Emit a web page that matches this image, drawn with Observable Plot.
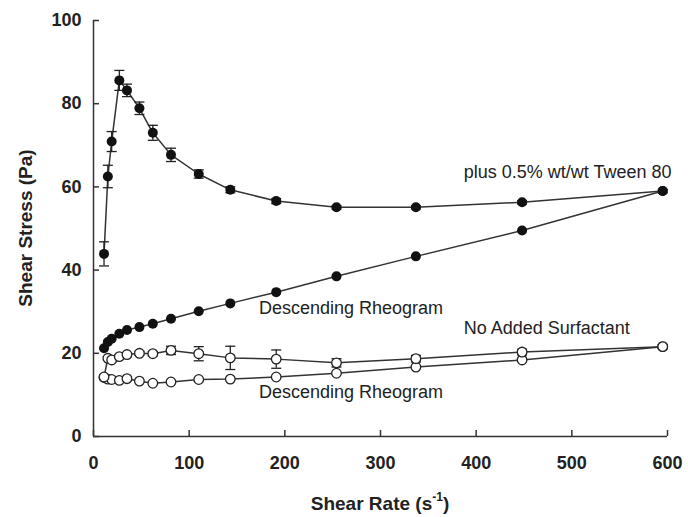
<!DOCTYPE html>
<html><head><meta charset="utf-8">
<script src="https://cdn.jsdelivr.net/npm/d3@7"></script>
<script src="https://cdn.jsdelivr.net/npm/@observablehq/plot@0.6"></script>
<style>html,body{margin:0;padding:0;background:#fff;}</style>
</head><body><div id="chart"></div>
<script>
// Shear rate (s^-1) for each measurement step
const shearRate = [11, 15, 19, 27, 35, 48, 62, 81, 110, 143, 191, 254, 337, 448, 595];
// plus 0.5% wt/wt Tween 80 — ascending rheogram (filled markers)
const tweenUp    = [43.9, 62.5, 70.9, 85.6, 83.2, 78.9, 73.0, 67.7, 63.1, 59.3, 56.6, 55.1, 55.1, 56.3, 59.0];
const tweenUpErr = [2.9, 2.7, 2.4, 2.4, 1.5, 1.5, 1.8, 1.6, 1.0, 0.7, 0.6, 0.4, 0.4, 0.4, 0.4];
// plus 0.5% wt/wt Tween 80 — descending rheogram
const tweenDown  = [21.2, 22.7, 23.5, 24.7, 25.6, 26.3, 27.1, 28.3, 30.1, 32.0, 34.7, 38.5, 43.3, 49.5, 59.0];
// No added surfactant — ascending rheogram (open markers)
const plainUp    = [14.3, 18.8, 18.4, 19.2, 19.7, 20.0, 19.9, 20.7, 19.9, 18.9, 18.6, 17.7, 18.7, 20.3, 21.6];
const plainUpErr = [0, 0.4, 0.4, 0.4, 0.4, 0.5, 0.5, 1.0, 1.7, 2.8, 2.2, 1.0, 0.8, 0.7, 0.5];
// No added surfactant — descending rheogram
const plainDown  = [14.2, 13.8, 13.7, 13.5, 13.9, 13.3, 12.8, 13.1, 13.7, 13.8, 14.3, 15.2, 16.7, 18.4, 21.6];

const xTicks = [0, 100, 200, 300, 400, 500, 600];
const yTicks = [0, 20, 40, 60, 80, 100];

const labelText = ["plus 0.5% wt/wt Tween 80", "Descending Rheogram", "No Added Surfactant", "Descending Rheogram"];
const labelX = [387, 173, 387, 173];
const labelY = [63.5, 30.8, 26.0, 10.6];

const toRows = (ys, errs) => shearRate.map((x, i) => ({x, y: ys[i], e: errs ? errs[i] : 0}));
const tUp = toRows(tweenUp, tweenUpErr);
const tDown = toRows(tweenDown);
const pUp = toRows(plainUp, plainUpErr);
const pDown = toRows(plainDown);
const errRows = [...tUp, ...pUp].filter(d => d.e > 0);
const labels = labelText.map((t, i) => ({t, x: labelX[i], y: labelY[i]}));

const cap = {draw(ctx, size) { const r = Math.sqrt(size / Math.PI); ctx.moveTo(-r, 0); ctx.lineTo(r, 0); }};
const ink = "#222";
const lineCol = "#333";

const svg = Plot.plot({
  width: 688, height: 517,
  marginLeft: 93, marginRight: 21, marginTop: 20, marginBottom: 81,
  style: {fontFamily: "'Liberation Sans', Arial, sans-serif", background: "white", color: ink},
  x: {domain: [0, 600]},
  y: {domain: [0, 100]},
  marks: [
    Plot.axisX(xTicks, {tickSize: 0, tickPadding: 20, fontSize: 18, fontWeight: "bold", label: null}),
    Plot.axisY(yTicks, {tickSize: 0, tickPadding: 12, fontSize: 18, fontWeight: "bold", label: null}),
    Plot.ruleX(xTicks, {x: d => d, y1: 0, y2: 0, insetBottom: 6, stroke: lineCol, strokeWidth: 1.5}),
    Plot.ruleY(yTicks, {y: d => d, x1: 0, x2: 0, insetRight: -6, stroke: lineCol, strokeWidth: 1.5}),
    Plot.ruleX([0], {stroke: lineCol, strokeWidth: 1.5}),
    Plot.ruleY([0], {stroke: lineCol, strokeWidth: 1.5}),
    Plot.line(tUp, {x: "x", y: "y", stroke: lineCol, strokeWidth: 1.5}),
    Plot.line(tDown, {x: "x", y: "y", stroke: lineCol, strokeWidth: 1.5}),
    Plot.line(pUp, {x: "x", y: "y", stroke: lineCol, strokeWidth: 1.5}),
    Plot.line(pDown, {x: "x", y: "y", stroke: lineCol, strokeWidth: 1.5}),
    Plot.ruleX(errRows, {x: "x", y1: d => d.y - d.e, y2: d => d.y + d.e, stroke: ink, strokeWidth: 1.3}),
    Plot.dot(errRows, {x: "x", y: d => d.y + d.e, symbol: cap, r: 5, stroke: ink, strokeWidth: 1.3, fill: "none"}),
    Plot.dot(errRows, {x: "x", y: d => d.y - d.e, symbol: cap, r: 5, stroke: ink, strokeWidth: 1.3, fill: "none"}),
    Plot.dot(tDown, {x: "x", y: "y", r: 5, fill: "#111", stroke: "none"}),
    Plot.dot(tUp, {x: "x", y: "y", r: 5, fill: "#111", stroke: "none"}),
    Plot.dot(pDown, {x: "x", y: "y", r: 4.8, fill: "white", stroke: ink, strokeWidth: 1.3}),
    Plot.dot(pUp, {x: "x", y: "y", r: 4.8, fill: "white", stroke: ink, strokeWidth: 1.3}),
    Plot.text(labels, {x: "x", y: "y", text: "t", textAnchor: "start", fontSize: 18, fill: ink})
  ]
});

const s = d3.select(svg);
s.append("text")
  .attr("transform", "translate(27,228) rotate(-90)")
  .attr("text-anchor", "middle").attr("dominant-baseline", "middle")
  .attr("font-size", 19).attr("font-weight", "bold").attr("fill", ink)
  .text("Shear Stress (Pa)");
const xt = s.append("text")
  .attr("x", 380).attr("y", 505)
  .attr("text-anchor", "middle").attr("dominant-baseline", "middle")
  .attr("font-size", 19).attr("font-weight", "bold").attr("fill", ink);
xt.append("tspan").text("Shear Rate (s");
xt.append("tspan").attr("font-size", 12).attr("dy", -7).text("-1");
xt.append("tspan").attr("dy", 7).text(")");

document.getElementById("chart").appendChild(svg);
</script>
</body></html>
